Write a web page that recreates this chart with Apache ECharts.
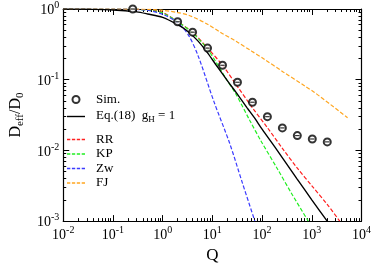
<!DOCTYPE html>
<html><head><meta charset="utf-8">
<script src="https://cdn.jsdelivr.net/npm/echarts@6/dist/echarts.min.js"></script>
<style>html,body{margin:0;padding:0;background:#fff}#c{width:374px;height:269px}</style>
</head><body><div id="c"></div>
<script>
// Simulation points
const simQ = [0.25, 2, 4, 8, 16, 32, 64, 128, 256, 512, 1024, 2048];
const simD = [1.0, 0.66, 0.47, 0.28, 0.16, 0.092, 0.048, 0.030, 0.0208, 0.0162, 0.0145, 0.0132];
// Eq.(18) g_H = 1
const eqQ = [0.01, 0.03, 0.1, 0.3, 0.5, 1, 2, 3, 5, 8, 12, 20, 30, 50, 70, 100, 200, 500, 1000, 2040];
const eqD = [1.0, 0.99, 0.97, 0.91, 0.85, 0.76, 0.6, 0.5, 0.36, 0.24, 0.16, 0.097, 0.066, 0.04, 0.029, 0.02, 0.0101, 0.004, 0.002, 0.001];
// RR
const rrQ = [0.01, 0.1, 0.3, 0.6, 1, 2, 4, 8, 16, 32, 64, 128, 256, 512, 1024, 2048, 3650];
const rrD = [1.0, 1.0, 0.99, 0.96, 0.9, 0.66, 0.47, 0.28, 0.16, 0.08, 0.04, 0.021, 0.0107, 0.0056, 0.0031, 0.00172, 0.001];
// KP
const kpQ = [0.01, 0.1, 0.3, 0.6, 1, 2, 4, 8, 12, 19.4, 30, 57.4, 95.6, 200, 400, 850];
const kpD = [1.0, 1.0, 0.99, 0.95, 0.88, 0.66, 0.46, 0.27, 0.175, 0.1, 0.062, 0.026, 0.0135, 0.0056, 0.0024, 0.001];
// Zw
const zwQ = [0.01, 0.1, 0.43, 1, 2, 3.35, 5.2, 10.8, 22.2, 40, 71.5];
const zwD = [1.0, 1.0, 0.97, 0.84, 0.64, 0.42, 0.215, 0.0485, 0.0127, 0.0035, 0.001];
// FJ
const fjQ = [0.01, 0.1, 0.5, 1, 2, 3.3, 8, 14.4, 30, 62, 111, 265, 735, 1138, 5250];
const fjD = [1.0, 1.0, 0.99, 0.96, 0.89, 0.82, 0.61, 0.47, 0.35, 0.253, 0.195, 0.129, 0.081, 0.066, 0.029];
// Axis ranges
const xRange = [0.01, 10000];
const yRange = [0.001, 1];

const zip = (a, b) => a.map((v, i) => [v, b[i]]);
const serif = '"Liberation Serif", "DejaVu Serif", serif';
const lblRich = {
  b: {fontFamily: serif, fontSize: 14, color: '#000', verticalAlign: 'bottom'},
  s: {fontFamily: serif, fontSize: 10, color: '#000', verticalAlign: 'bottom', padding: [0, 0, 7, 0]}
};
const powLabel = v => '{b|10}{s|' + Math.round(Math.log10(v)) + '}';
const off = {show: false};
const tickLine = {color: '#000', width: 1};
const hiddenLine = {show: true, onZero: false, lineStyle: {color: 'rgba(0,0,0,0)', width: 1}};

// kind: 'line' (axis line + labels), 'major' (inward major ticks), 'minor' (inward minor ticks)
function mkAxis(range, position, kind, splitNumber, extra) {
  const a = {
    type: 'log', logBase: 10, min: range[0], max: range[1], splitNumber, position,
    splitLine: off, minorSplitLine: off, silent: true,
    axisLine: hiddenLine, axisTick: off, minorTick: off, axisLabel: off
  };
  if (kind === 'line') {
    a.axisLine = {show: true, onZero: false, lineStyle: {color: '#000', width: 1.2}};
  } else if (kind === 'major') {
    a.offset = -6;
    a.axisTick = {show: true, inside: false, length: 6, lineStyle: tickLine};
  } else {
    a.offset = -3;
    a.axisTick = {show: true, inside: false, length: 0, lineStyle: {color: 'rgba(0,0,0,0)'}};
    a.minorTick = {show: true, splitNumber: 9, length: 3, lineStyle: tickLine};
  }
  return Object.assign(a, extra || {});
}

const dashPath = 'path://M0,0H3.3V1.3H0Z M4.9,0H8.2V1.3H4.9Z M9.8,0H13.1V1.3H9.8Z M14.7,0H18V1.3H14.7Z';
const solidPath = 'path://M0,0H18V1.4H0Z';
const legendText = {
  padding: [0, 0, 0, 6],
  rich: {
    a: {fontFamily: serif, fontSize: 13, color: '#000', verticalAlign: 'top'},
    s: {fontFamily: serif, fontSize: 9, color: '#000', verticalAlign: 'top', padding: [6, 0, 0, 0]}
  }
};
const fmtLegend = n => n === 'Eq.(18)' ? '{a|Eq.(18)  g}{s|H}{a| = 1}' : '{a|' + n + '}';

const chart = echarts.init(document.getElementById('c'));
const dashed = (name, q, d, color) => ({
  name, type: 'line', data: zip(q, d), symbol: 'none', smooth: 0.3,
  lineStyle: {color, width: 1.2, type: [4, 2]}, itemStyle: {color}, z: 2
});

chart.setOption({
  animation: false,
  backgroundColor: '#fff',
  grid: {left: 47, right: 11, top: 9, bottom: 37},
  xAxis: [
    mkAxis(xRange, 'bottom', 'line', 6, {
      name: 'Q', nameLocation: 'middle', nameGap: 22,
      nameTextStyle: {fontFamily: serif, fontSize: 17, color: '#000'},
      axisLabel: {show: true, formatter: powLabel, rich: lblRich, margin: 4}}),
    mkAxis(xRange, 'bottom', 'major', 6),
    mkAxis(xRange, 'bottom', 'minor', 6),
    mkAxis(xRange, 'top', 'line', 6),
    mkAxis(xRange, 'top', 'major', 6),
    mkAxis(xRange, 'top', 'minor', 6)
  ],
  yAxis: [
    mkAxis(yRange, 'left', 'line', 3, {
      name: '{a|D}{s|eff}{a|/D}{s|0}', nameLocation: 'middle', nameGap: 33,
      nameTextStyle: {rich: {
        a: {fontFamily: serif, fontSize: 16, color: '#000', verticalAlign: 'top'},
        s: {fontFamily: serif, fontSize: 11, color: '#000', verticalAlign: 'top', padding: [7, 0, 0, 0]}
      }},
      axisLabel: {show: true, formatter: powLabel, rich: lblRich, margin: 4}}),
    mkAxis(yRange, 'left', 'major', 3),
    mkAxis(yRange, 'left', 'minor', 3),
    mkAxis(yRange, 'right', 'line', 3),
    mkAxis(yRange, 'right', 'major', 3),
    mkAxis(yRange, 'right', 'minor', 3)
  ],
  legend: [
    {orient: 'vertical', left: 67, top: 93, padding: 0, itemGap: 3, itemWidth: 18, itemHeight: 7,
      data: [{name: 'Sim.', icon: 'emptyCircle'}, {name: 'Eq.(18)', icon: solidPath}],
      formatter: fmtLegend, textStyle: legendText},
    {orient: 'vertical', left: 67, top: 133, padding: 0, itemGap: 1.5, itemWidth: 18, itemHeight: 7,
      data: ['RR', 'KP', 'Zw', 'FJ'].map(n => ({name: n, icon: dashPath})),
      formatter: fmtLegend, textStyle: legendText}
  ],
  series: [
    {name: 'Eq.(18)', type: 'line', data: zip(eqQ, eqD), symbol: 'none', smooth: 0.3,
      lineStyle: {color: '#000', width: 1.4}, itemStyle: {color: '#000'}, z: 3},
    dashed('RR', rrQ, rrD, '#ff2020'),
    dashed('KP', kpQ, kpD, '#22ee22'),
    dashed('Zw', zwQ, zwD, '#3b3bff'),
    dashed('FJ', fjQ, fjD, '#ffa620'),
    {name: 'Sim.', type: 'scatter', data: zip(simQ, simD), symbol: 'emptyCircle', symbolSize: 7,
      itemStyle: {color: '#000', borderColor: '#000', borderWidth: 1.3}, z: 5},
    {name: 'simbar', type: 'scatter', data: zip(simQ, simD), symbol: 'rect', symbolSize: [4.5, 1.2],
      itemStyle: {color: '#000'}, z: 6, silent: true}
  ]
});
</script></body></html>
